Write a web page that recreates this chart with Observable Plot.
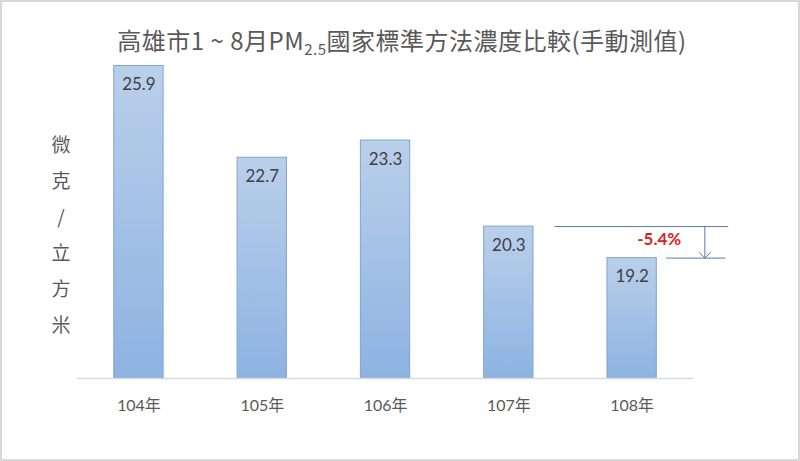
<!DOCTYPE html>
<html>
<head>
<meta charset="utf-8">
<script src="https://cdn.jsdelivr.net/npm/d3@7"></script>
<script src="https://cdn.jsdelivr.net/npm/@observablehq/plot@0.6"></script>
<style>
  html, body { margin: 0; padding: 0; background: #fff; }
  #wrap { position: relative; width: 800px; height: 461px; box-sizing: border-box; border: 2px solid #d9d9d9; overflow: hidden; font-family: Lato, "Noto Sans CJK TC", sans-serif; }
  #chart { position: absolute; left: -2px; top: -2px; }
  #title { position: absolute; left: 4px; right: 0; top: 20px; text-align: center; font-size: 24px; color: #595959; font-family: "Noto Sans CJK TC", sans-serif; letter-spacing: 0.5px; }
  #title sub { font-size: 15px; vertical-align: -5px; line-height: 0; }
  #ylab { position: absolute; left: 47px; top: 124px; width: 24px; font-size: 19px; color: #595959; line-height: 36px; text-align: center; font-family: "Noto Sans CJK TC", sans-serif; }
</style>
</head>
<body>
<div id="wrap">
  <div id="chart"></div>
  <div id="title">高雄市1 ~ 8月PM<sub>2.5</sub>國家標準方法濃度比較(手動測值)</div>
  <div id="ylab">微<br>克<br>/<br>立<br>方<br>米</div>
</div>
<script>
const years = ["104年", "105年", "106年", "107年", "108年"];
const values = [25.9, 22.7, 23.3, 20.3, 19.2];
const changeLabel = "-5.4%";

const data = years.map((year, i) => ({ i, year, value: values[i] }));
const prev = values[3], curr = values[4];

const defs = () => {
  const d = d3.create("svg:defs");
  const g = d.append("linearGradient").attr("id", "barGrad").attr("x1", 0).attr("y1", 0).attr("x2", 0).attr("y2", 1);
  g.append("stop").attr("offset", "0%").attr("stop-color", "#bacfea");
  g.append("stop").attr("offset", "100%").attr("stop-color", "#8db3e2");
  return d.node();
};

const chart = Plot.plot({
  width: 800,
  height: 461,
  marginLeft: 77,
  marginRight: 105,
  marginTop: 34,
  marginBottom: 82,
  style: { fontFamily: 'Lato, "Noto Sans CJK TC", sans-serif', background: "transparent" },
  x: { domain: [-0.5, 4.5], axis: null },
  y: { domain: [15, 27], axis: null },
  marks: [
    defs,
    Plot.rect(data, { x1: d => d.i - 0.2, x2: d => d.i + 0.2, y1: 15, y2: "value", fill: "url(#barGrad)", stroke: "#7fa3d3", strokeWidth: 1 }),
    Plot.ruleY([15], { stroke: "#d9d9d9", strokeWidth: 1.5 }),
    Plot.text(data, { x: "i", y: "value", text: d => d.value.toFixed(1), dy: 19, fontSize: 17, fill: "#404040" }),
    Plot.text(data, { x: "i", y: 15, text: "year", dy: 27, fontSize: 16, fill: "#595959" }),
    Plot.ruleY([prev], { x1: 3.375, x2: 4.783, stroke: "#5a7bab", strokeWidth: 1 }),
    Plot.ruleY([curr], { x1: 4.28, x2: 4.76, stroke: "#5a7bab", strokeWidth: 1 }),
    Plot.arrow([{ y1: prev, y2: curr }], { x1: 4.59, x2: 4.59, y1: "y1", y2: "y2", stroke: "#5a7bab", strokeWidth: 1, headLength: 12, headAngle: 90 }),
    Plot.text([changeLabel], { x: 4.22, y: 19.83, text: d => d, fontSize: 17, fontWeight: "bold", fill: "#e0201c" })
  ]
});
document.getElementById("chart").appendChild(chart);
</script>
</body>
</html>
